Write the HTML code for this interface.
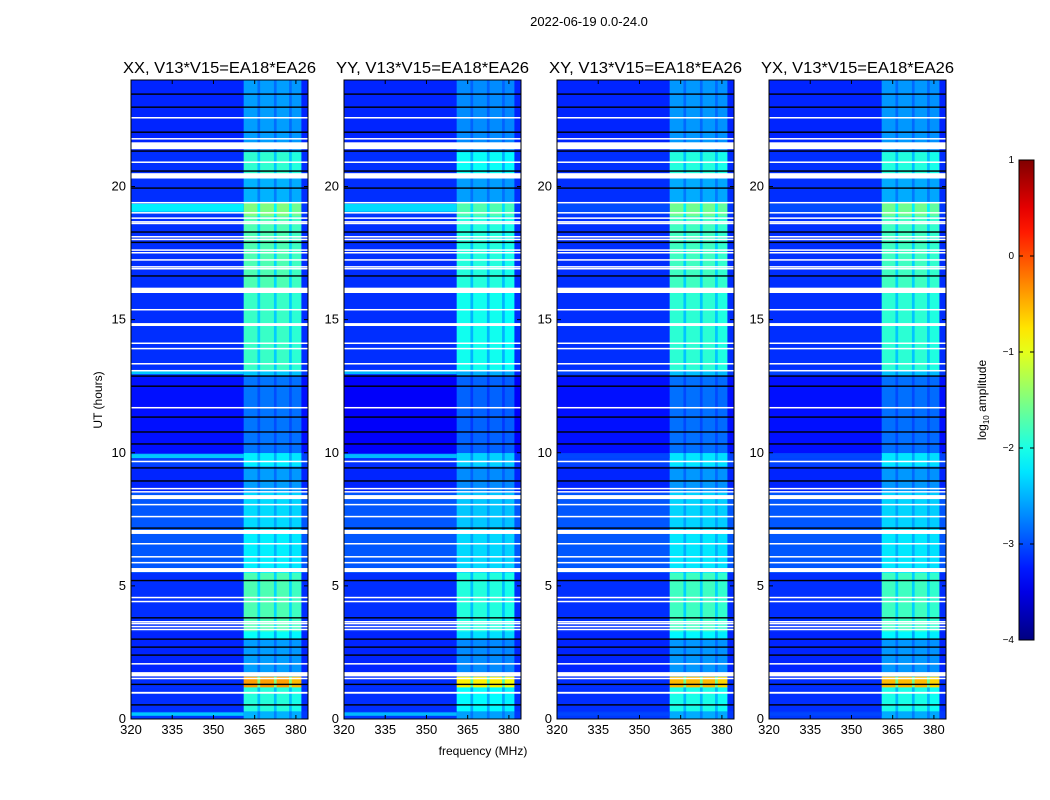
<!DOCTYPE html>
<html><head><meta charset="utf-8">
<style>
html,body{margin:0;padding:0;background:#fff;}
svg{display:block;font-family:"Liberation Sans",sans-serif;}
</style></head>
<body>
<svg id="fig" width="1050" height="800" viewBox="0 0 1050 800">
<text x="589" y="26" font-size="13" text-anchor="middle">2022-06-19 0.0-24.0</text>
<text x="483" y="755" font-size="12" text-anchor="middle">frequency (MHz)</text>
<text x="102" y="400" font-size="12" text-anchor="middle" transform="rotate(-90 102 400)">UT (hours)</text>
<g id="panels"></g>
<g id="cbar"></g>
</svg>
<script>
// ---- data ----
const panelTitles = ["XX, V13*V15=EA18*EA26","YY, V13*V15=EA18*EA26","XY, V13*V15=EA18*EA26","YX, V13*V15=EA18*EA26"];
const xTicks = [320,335,350,365,380];
const yTicks = [0,5,10,15,20];
const cbTicks = [-4,-3,-2,-1,0,1];
// time segments (hours) with background and RFI-band log10 amplitude
const segStartH = [0,0.3,1.2,1.6,3.0,3.3,5.5,7.2,8.5,9.5,10.0,12.9,13.1,16.2,18.9,19.4,20.4,21.3];
const segEndH   = [0.3,1.2,1.6,3.0,3.3,5.5,7.2,8.5,9.5,10.0,12.9,13.1,16.2,18.9,19.4,20.4,21.3,24];
const bgLevel   = [-3.1,-3.15,-3.15,-3.2,-3.2,-3.15,-2.95,-2.95,-3.2,-3.05,-3.3,-3.1,-3.15,-3.15,-3.1,-3.15,-3.15,-3.2];
const bandLevel = [-2.5,-1.95,-0.4,-2.6,-2.1,-1.75,-2.2,-2.3,-2.6,-2.2,-2.8,-2.4,-1.85,-1.75,-1.5,-2.5,-1.9,-2.6];
// wideband elevated rows
const wbStartH = [0.12,9.8,12.95,19.05];
const wbEndH   = [0.25,9.95,13.1,19.35];
const wbLevel  = [-2.4,-2.4,-2.4,-2.2];
const panelWideband = [1,0.9,0.15,0.15];
const panelBand = [1,0.85,0.95,0.95];
// frequency sub-bands (MHz) and gain within RFI region
const colStart = [320,361,366,367,372,373,377.5,378.5,382];
const colEnd   = [361,366,367,372,373,377.5,378.5,382,384.4];
const colGain  = [0,1,0.6,1,0.6,1,0.6,0.95,0];
// flagged (white) rows
const flagStartH = [0.95,1.5,1.6,2.05,3.34,3.45,3.57,3.64,4.39,4.54,5.52,5.86,6.08,6.57,6.95,7.59,8.04,8.26,8.52,8.64,9.65,11.68,13.07,13.33,13.9,14.1,14.76,15.36,16.0,16.9,16.97,17.23,17.5,17.6,18.0,18.1,18.6,18.66,18.8,19.0,19.38,20.3,20.9,21.4,21.78,22.57];
const flagEndH   = [1.02,1.55,1.76,2.1,3.39,3.5,3.61,3.68,4.44,4.59,5.67,5.9,6.12,6.61,7.1,7.63,8.08,8.41,8.56,8.68,9.7,11.72,13.11,13.37,13.94,14.14,14.87,15.4,16.2,16.94,17.01,17.27,17.54,17.64,18.04,18.14,18.64,18.7,18.84,19.04,19.42,20.5,20.94,21.66,21.82,22.61];
// black (zero) rows
const blackH = [0.53,1.3,2.4,2.7,3.0,3.8,5.2,7.17,8.94,9.43,10.33,10.78,11.34,12.5,12.88,16.64,17.9,18.29,19.94,20.58,21.33,22.04,22.98,23.47];

// ---- layout ----
const panelX = [131,344,557,769];
const panelW = 177, plotTop = 80, plotBottom = 719;
const fMin = 320, fMax = 384.4, tMax = 24;
function xScale(px, f){ return px + (f - fMin) / (fMax - fMin) * panelW; }
function yScale(h){ return plotBottom - h / tMax * (plotBottom - plotTop); }
function jet(v){
  const t = Math.max(0, Math.min(1, (v + 4) / 5));
  const c = x => Math.round(255 * Math.max(0, Math.min(1, x)));
  return `rgb(${c(1.5 - Math.abs(4*t - 3))},${c(1.5 - Math.abs(4*t - 2))},${c(1.5 - Math.abs(4*t - 1))})`;
}
const NS = "http://www.w3.org/2000/svg";
function mk(tag, attrs, parent){
  const e = document.createElementNS(NS, tag);
  for (const k in attrs) e.setAttribute(k, attrs[k]);
  parent.appendChild(e); return e;
}
const panels = document.getElementById('panels');
panelX.forEach((px, p) => {
  const g = mk('g', {}, panels);
  
  
  const t = mk('text', {x: px + panelW/2, y: 73, 'font-size': 16, 'text-anchor': 'middle', textLength: 193, lengthAdjust: 'spacingAndGlyphs'}, g);
  t.textContent = panelTitles[p];
  
  
  segStartH.forEach((s, i) => {
    colStart.forEach((c, j) => {
      const bg = bgLevel[i] + (p === 1 && s >= 9.5 && s < 13 ? -0.1 : 0);
      const v = bg + (bandLevel[i] - bg) * colGain[j] * panelBand[p];
      const r = mk('rect', {x: xScale(px, c), y: yScale(segEndH[i]), width: xScale(px, colEnd[j]) - xScale(px, c) + 0.3, height: yScale(s) - yScale(segEndH[i]) + 0.3, fill: jet(v)}, g);
      
      
    });
  });
  wbStartH.forEach((s, i) => {
    const bgBase = -3.15;
    const v = bgBase + (wbLevel[i] - bgBase) * panelWideband[p];
    const r = mk('rect', {x: px, y: yScale(wbEndH[i]), width: xScale(px, 361) - px, height: yScale(s) - yScale(wbEndH[i]), fill: jet(v)}, g);
    
    
  });
  blackH.forEach(h => {
    const r = mk('rect', {x: px, y: yScale(h) - 0.7, width: panelW, height: 1.4, fill: '#000'}, g);
    
    
  });
  flagStartH.forEach((s, i) => {
    const r = mk('rect', {x: px, y: yScale(flagEndH[i]), width: panelW, height: Math.max(1.5, yScale(s) - yScale(flagEndH[i])), fill: '#fff'}, g);
    
    
  });
  const fr = mk('rect', {x: px, y: plotTop, width: panelW, height: plotBottom - plotTop, fill: 'none', stroke: '#000', 'stroke-width': 1}, g);
  
  
  xTicks.forEach(f => {
    const x = xScale(px, f);
    mk('line', {x1: x, x2: x, y1: plotBottom, y2: plotBottom - 4, stroke: '#000'}, g);
    mk('line', {x1: x, x2: x, y1: plotTop, y2: plotTop + 4, stroke: '#000'}, g);
    const l = mk('text', {x: x, y: plotBottom + 15, 'font-size': 13, 'text-anchor': 'middle'}, g);
    l.textContent = f;
    
    
  });
  yTicks.forEach(h => {
    const y = yScale(h);
    mk('line', {x1: px, x2: px + 4, y1: y, y2: y, stroke: '#000'}, g);
    mk('line', {x1: px + panelW, x2: px + panelW - 4, y1: y, y2: y, stroke: '#000'}, g);
    const l = mk('text', {x: px - 5, y: y + 4, 'font-size': 13, 'text-anchor': 'end'}, g);
    l.textContent = h;
    
    
  });
});
// colorbar
const cb = document.getElementById('cbar');
const cbX = 1019, cbW = 15, cbTop = 160, cbBot = 640;
const defs = mk('defs', {}, cb);
const grad = mk('linearGradient', {id: 'jetg', x1: 0, y1: 1, x2: 0, y2: 0}, defs);
for (let k = 0; k <= 20; k++) mk('stop', {offset: k/20, 'stop-color': jet(-4 + 5*k/20)}, grad);
const cbr = mk('rect', {x: cbX, y: cbTop, width: cbW, height: cbBot - cbTop, fill: 'url(#jetg)', stroke: '#000'}, cb);


cbTicks.forEach(v => {
  const y = cbBot - (v + 4) / 5 * (cbBot - cbTop);
  mk('line', {x1: cbX, x2: cbX + 4, y1: y, y2: y, stroke: '#000'}, cb);
  mk('line', {x1: cbX + cbW, x2: cbX + cbW - 4, y1: y, y2: y, stroke: '#000'}, cb);
  const l = mk('text', {x: cbX - 5, y: y + 3, 'font-size': 10, 'text-anchor': 'end'}, cb);
  l.textContent = v < 0 ? '\u2212' + (-v) : String(v);
  
  
});
const cl = mk('text', {x: 986, y: 400, 'font-size': 12, 'text-anchor': 'middle', transform: 'rotate(-90 986 400)'}, cb);


const s1 = mk('tspan', {}, cl); s1.textContent = 'log';
const s2 = mk('tspan', {'font-size': 8, dy: 3}, cl); s2.textContent = '10';
const s3 = mk('tspan', {dy: -3}, cl); s3.textContent = ' amplitude';
</script>
</body></html>
